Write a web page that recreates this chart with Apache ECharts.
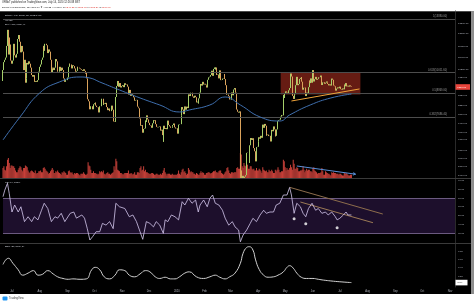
<!DOCTYPE html>
<html><head><meta charset="utf-8">
<script src="https://cdn.jsdelivr.net/npm/echarts@6/dist/echarts.min.js"></script>
<style>html,body{margin:0;padding:0;background:#fff}#c{width:474px;height:304px}</style>
</head><body><div id="c"></div>
<script>
// ---------------- data ----------------
const startDate = '2019-06-21';
const firstOpen = 9550;
const closes = [
10200,10700,10850,11000,11800,13000,11200,12400,11900,10800,
10600,10800,11950,11150,11000,11250,11450,12300,12600,12100,11350,11800,11400,10200,10850,9450,9700,10650,10550,10750,10600,10350,9900,9800,9900,9850,9500,9550,9500,9600,10100,
10400,10550,10850,11000,11800,11450,11950,11950,11850,11300,11550,11400,10850,10050,10300,10350,10200,10350,10900,10750,10100,10100,10400,10150,10150,10350,10200,9700,9500,9600,9600,
9750,10400,10600,10550,10550,10300,10500,10450,10300,10100,10150,10400,10350,10350,10300,10250,10200,10150,10250,10150,9980,10050,9700,8550,8450,8050,8200,8200,8050,8300,
8350,8380,8230,8160,8150,7900,8200,8200,8580,8580,8270,8340,8310,8370,8160,8010,8090,7960,7960,8230,8230,8030,7480,7460,8670,9260,9550,9220,9430,9200,9180,
9260,9310,9200,9420,9330,9350,9230,8800,8820,9050,8730,8820,8780,8650,8480,8510,8520,8180,8130,8100,7620,7290,7320,6990,7150,7170,7530,7460,7760,7570,
7420,7320,7300,7200,7400,7540,7510,7530,7360,7240,7220,7240,7260,7080,7120,6890,6620,7290,7150,7190,7140,7520,7320,7260,7200,7200,7250,7320,7390,7220,7170,
7180,6950,7340,7360,7360,7760,8160,8040,7820,8190,8030,8180,8110,8810,8810,8720,8900,8900,8700,8630,8740,8660,8390,8430,8340,8600,8900,9380,9290,9500,9350,
9390,9340,9290,9180,9620,9760,9800,9900,10160,9850,10270,10360,10240,10360,9900,9930,9700,10180,9600,9610,9690,9670,9960,9660,9310,8790,8800,8710,8540,
8530,8910,8760,8760,9070,9150,8900,8040,7930,7890,7950,4970,5560,5200,5390,5020,5360,5410,6190,6200,6200,5830,6480,6770,6690,6760,6370,6250,5880,6410,6420,
6640,6800,6740,6860,6780,7340,7200,7370,7290,6870,6890,6910,6850,6860,6630,7110,7050,7260,7130,6840,6860,7130,7500,7540,7560,7700,7780,7760,8780,8620,
8830,8970,8900,8880,9030,9150,9990,9810,9550,8730,8570,8820,9310,9790,9310,9380,9670,9730,9780,9510,9060,9170,9180,8720,8900,8840,9200,9570,9430,9700,9450,
10200,9520,9660,9790,9620,9670,9750,9780,9770,9870,9320,9470,9480,9390,9450,9520,9460,9380,9300,9360,9290,9690,9620,9290,9250,9160,9010,9120,9190,9140,
9230,9090,9060,9130,9080,9340,9250,9430,9240,9280,9230,9300,9240,9210
];
// daily volume, thousands BTC
const volumes = [
12,14,10,9,14,22,24,18,12,15,
15,14,14,12,9,7,7,10,12,14,13,10,8,12,12,15,14,13,9,7,6,8,9,8,7,6,9,5,6,6,8,
8,9,7,7,12,13,11,9,8,7,5,6,8,10,12,10,6,6,8,7,9,7,6,5,4,7,6,8,7,6,4,
4,8,9,7,6,7,5,4,6,5,6,6,5,4,3,5,5,5,7,5,4,4,5,19,15,14,10,6,6,8,
6,6,5,5,4,5,8,7,8,7,9,5,4,5,6,7,5,5,4,5,6,7,14,10,23,20,10,9,8,6,6,
5,4,5,6,6,6,6,9,5,5,6,5,4,5,7,4,4,7,7,6,12,14,9,10,14,8,10,7,7,6,
5,5,5,6,6,5,4,4,5,5,4,4,4,5,4,6,9,12,7,5,3,5,5,5,4,4,5,4,4,4,4,
4,5,9,5,4,7,10,11,7,8,6,4,5,12,10,7,8,7,7,5,5,4,6,5,4,4,6,8,6,7,6,
4,4,6,6,7,7,6,5,6,7,8,8,9,7,7,6,8,9,9,6,5,4,5,7,8,12,13,9,6,
5,7,7,6,7,7,7,12,13,11,11,30,28,14,12,18,15,14,17,16,11,11,14,14,11,10,11,9,9,12,9,
9,11,10,8,6,13,10,9,8,9,7,7,10,8,8,10,8,6,6,10,8,10,13,10,7,7,8,8,22,20,
13,9,12,10,10,12,16,13,10,22,17,11,11,13,12,8,8,9,9,10,14,10,7,9,11,9,10,10,8,8,7,
12,13,9,8,7,5,6,6,6,7,12,8,4,4,8,7,6,5,5,4,3,7,6,7,6,6,5,5,5,4,
5,5,4,3,3,6,5,6,5,4,3,3,4,4
];
const ema100 = [
['2019-06-21',6690],['2019-07-10',7686],['2019-08-01',8884],['2019-08-23',9493],['2019-09-15',9783],
['2019-09-26',9724],['2019-10-07',9493],['2019-10-29',9046],['2019-11-21',8620],['2019-12-13',8263],
['2020-01-04',7921],['2020-01-15',8017],['2020-02-07',8263],['2020-02-24',8671],['2020-03-12',8263],
['2020-04-03',7686],['2020-04-25',7502],['2020-05-06',7780],['2020-05-29',8263],['2020-06-21',8620],['2020-07-14',8829]
];
const rsi14 = [
['2019-06-21',71.5],['2019-06-23',79],['2019-06-26',86.8],['2019-06-28',75],['2019-07-01',54],['2019-07-04',62],['2019-07-08',54],['2019-07-11',60],['2019-07-15',43],['2019-07-19',48.6],['2019-07-23',43],['2019-07-26',48.6],['2019-07-30',45],
['2019-08-03',56],['2019-08-06',64],['2019-08-10',58],['2019-08-14',43],['2019-08-18',48.6],['2019-08-21',47],['2019-08-25',52.5],['2019-08-29',43],
['2019-09-04',52.5],['2019-09-08',54],['2019-09-11',47],['2019-09-17',50.6],['2019-09-20',47],['2019-09-23',35.4],['2019-09-26',22],['2019-09-29',25.8],
['2019-10-03',31.5],['2019-10-07',31.5],['2019-10-10',41],['2019-10-14',39],['2019-10-18',43],['2019-10-22',35],['2019-10-25',64],['2019-10-29',60],
['2019-11-04',58],['2019-11-09',48.6],['2019-11-13',50.6],['2019-11-17',43],['2019-11-21',31.5],['2019-11-24',22.8],['2019-11-28',43],
['2019-12-02',41],['2019-12-06',37],['2019-12-09',43],['2019-12-13',39],['2019-12-17',29.6],['2019-12-19',45],['2019-12-22',43],['2019-12-26',50.6],['2019-12-30',48.6],
['2020-01-03',45],['2020-01-07',65.8],['2020-01-10',62],['2020-01-14',69.7],['2020-01-18',64],['2020-01-22',67.7],['2020-01-25',54],['2020-01-27',62],['2020-01-31',67.7],
['2020-02-04',60],['2020-02-07',69.7],['2020-02-10',73.4],['2020-02-13',64],['2020-02-17',62],['2020-02-21',56],['2020-02-24',47],['2020-02-28',39],
['2020-03-03',43],['2020-03-06',37],['2020-03-10',33.4],['2020-03-12',20],['2020-03-15',27.7],['2020-03-19',33.4],['2020-03-23',41],['2020-03-26',46.8],['2020-03-30',43],
['2020-04-03',50.6],['2020-04-07',56],['2020-04-10',52.5],['2020-04-14',54],['2020-04-18',54],['2020-04-21',62],['2020-04-25',64],['2020-04-29',73.4],
['2020-05-03',73.4],['2020-05-06',82],['2020-05-08',73.4],['2020-05-11',52.5],['2020-05-14',64],['2020-05-18',60],['2020-05-21',52.5],['2020-05-24',48.6],['2020-05-27',58],['2020-05-31',64],
['2020-06-04',56],['2020-06-07',58],['2020-06-11',52.5],['2020-06-15',54],['2020-06-18',50.6],['2020-06-22',54],['2020-06-26',48.6],['2020-06-28',45],
['2020-07-01',46.8],['2020-07-05',50.6],['2020-07-08',54],['2020-07-10',50.6],['2020-07-14',50.6]
];
const bbw = [
['2019-06-21',0.48],['2019-06-27',0.63],['2019-07-02',0.51],['2019-07-08',0.35],['2019-07-13',0.22],['2019-07-19',0.27],['2019-07-25',0.33],['2019-07-30',0.22],
['2019-08-04',0.24],['2019-08-10',0.33],['2019-08-16',0.25],['2019-08-21',0.18],['2019-08-27',0.14],['2019-09-02',0.12],['2019-09-07',0.13],['2019-09-15',0.12],
['2019-09-22',0.13],['2019-09-28',0.35],['2019-10-02',0.41],['2019-10-07',0.35],['2019-10-12',0.18],['2019-10-18',0.13],['2019-10-24',0.22],['2019-10-29',0.35],
['2019-11-04',0.33],['2019-11-09',0.22],['2019-11-15',0.18],['2019-11-21',0.25],['2019-11-27',0.33],['2019-12-02',0.30],['2019-12-08',0.18],['2019-12-13',0.14],
['2019-12-19',0.17],['2019-12-25',0.13],['2019-12-30',0.13],['2020-01-04',0.18],['2020-01-10',0.27],['2020-01-15',0.30],['2020-01-23',0.18],['2020-01-31',0.14],
['2020-02-07',0.18],['2020-02-13',0.22],['2020-02-18',0.17],['2020-02-24',0.13],['2020-02-29',0.18],['2020-03-06',0.27],['2020-03-12',0.51],['2020-03-15',0.75],
['2020-03-19',0.89],['2020-03-22',0.91],['2020-03-26',0.83],['2020-03-29',0.59],['2020-04-02',0.36],['2020-04-07',0.22],['2020-04-12',0.17],['2020-04-18',0.18],
['2020-04-23',0.22],['2020-04-29',0.30],['2020-05-03',0.41],['2020-05-06',0.45],['2020-05-10',0.39],['2020-05-14',0.27],['2020-05-19',0.17],['2020-05-25',0.14],
['2020-06-01',0.14],['2020-06-07',0.12],['2020-06-13',0.10],['2020-06-21',0.08],['2020-07-01',0.06],['2020-07-14',0.04]
];
const priceTicks = [14500,13500,12750,11750,11000,10250,9750,8750,8250,7800,7400,7000,6700,6300,6000,5700,5400];
const rsiTicks = [30,40,50,60,70,80,90];
const bbwTicks = [0.2,0.4,0.6,0.8,1.0];
const monthTicks = ['2019-07-01','2019-08-01','2019-09-01','2019-10-01','2019-11-01','2019-12-01','2020-01-01','2020-02-01','2020-03-01','2020-04-01','2020-05-01','2020-06-01','2020-07-01','2020-08-01','2020-09-01','2020-10-01','2020-11-01'];
const monthLabels = ['Jul','Aug','Sep','Oct','Nov','Dec','2020','Feb','Mar','Apr','May','Jun','Jul','Aug','Sep','Oct','Nov'];
const fibLevels = [1, 0.618, 0.5, 0.382];
const fibPrices = [13880.00, 10051.60, 8869.00, 7686.40];
const rangeBox = [['2020-04-26', 10050], ['2020-07-24', 8800]];
const supportLine = [['2020-05-08', 8464], ['2020-07-23', 9101]];
const volumeArrow = [['2020-05-14', 14.4], ['2020-07-19', 4.5]];
const rsiTrend1 = [['2020-05-06', 82.2], ['2020-08-18', 51.7]];
const rsiTrend2 = [['2020-05-18', 65.4], ['2020-08-07', 41.8]];
const rsiDots = [['2020-05-11', 46.3], ['2020-05-24', 40.6], ['2020-06-28', 36.1]];

// ---------------- build ----------------
const DAY = 86400000;
const ts = s => { const p = s.split('-').map(Number); return Date.UTC(p[0], p[1]-1, p[2]); };
const t0 = ts(startDate);
const xMin = t0, xMax = t0 + 504.6 * DAY;
const candles = closes.map((c, i) => {
  const o = i === 0 ? firstOpen : closes[i-1];
  return [t0 + i*DAY, o, c, Math.min(o,c), Math.max(o,c)];
});
const vol = volumes.map((v, i) => [t0 + i*DAY, v]);
const pairs = arr => arr.map(d => [ts(d[0]), d[1]]);
const lastClose = closes[closes.length-1];
const lastBbw = bbw[bbw.length-1][1];
const monthTs = monthTicks.map(ts);
const FONT = 'Liberation Sans';
const AX = '#b2b5be';

const xBase = (grid, show) => ({
  type:'value', gridIndex:grid, min:xMin, max:xMax, scale:true,
  axisLine:{show:show, lineStyle:{color:'#333'}}, axisTick:{show:false}, splitLine:{show:false},
  axisLabel: show ? {customValues: monthTs, color:AX, fontSize:2.6, margin:3, fontFamily:FONT,
    formatter: v => { const i = monthTs.indexOf(v); return i>=0 ? monthLabels[i] : ''; }} : {show:false}
});
const yRight = (grid, extra) => Object.assign({
  gridIndex:grid, position:'right', splitLine:{show:false}, axisTick:{show:false},
  axisLine:{show:true, lineStyle:{color:'#2a2a2a'}}
}, extra);

const chart = echarts.init(document.getElementById('c'), null, {renderer:'canvas'});
chart.setOption({
  animation:false,
  backgroundColor:'#ffffff',
  textStyle:{fontFamily:FONT},
  grid:[
    {left:3, right:19, top:11, height:167},
    {left:3, right:19, top:179, height:64},
    {left:3, right:19, top:243, height:44}
  ],
  xAxis:[xBase(0,false), xBase(1,false), xBase(2,true)],
  yAxis:[
    yRight(0,{type:'log', logBase:10, min:5319, max:14566,
      axisLabel:{customValues:priceTicks, color:AX, fontSize:2.5, margin:3, formatter:v=>Number(v).toFixed(2)}}),
    {type:'value', gridIndex:0, min:0, max:200, show:false},
    yRight(1,{type:'value', min:18.6, max:91.7,
      axisLabel:{customValues:rsiTicks, color:AX, fontSize:2.5, margin:3, formatter:v=>Number(v).toFixed(2)}}),
    yRight(2,{type:'value', min:-0.067, max:1.0,
      axisLabel:{customValues:bbwTicks, color:AX, fontSize:2.5, margin:3, formatter:v=>Number(v).toFixed(2)}})
  ],
  graphic:{elements:[
    {id:'bg', type:'rect', z:-10, shape:{x:0,y:11,width:471,height:283}, style:{fill:'#000'}},
    {id:'lowerBg', type:'rect', z:2, shape:{x:0,y:178.5,width:455,height:109}, style:{fill:'#000'}},
    {id:'edge', type:'rect', z:-9, shape:{x:471,y:11,width:3,height:283}, style:{fill:'#8e8e8e'}},
    {id:'l0', type:'line', z:2.1, shape:{x1:0,y1:11.5,x2:471,y2:11.5}, style:{stroke:'#4a4a4a',lineWidth:1}},
    {id:'l1', type:'line', z:2.1, shape:{x1:0,y1:178.5,x2:471,y2:178.5}, style:{stroke:'#3a3a3a',lineWidth:1}},
    {id:'l2', type:'line', z:2.1, shape:{x1:0,y1:243.5,x2:471,y2:243.5}, style:{stroke:'#3a3a3a',lineWidth:1}},
    {id:'h1', type:'text', z:100, x:2, y:2.6, style:{text:'ORBoT published on TradingView.com, July 14, 2020 12:26:38 BST', fontSize:2.6, fontFamily:FONT, fill:'#222', verticalAlign:'middle'}},
    {id:'h2', type:'text', z:100, x:2, y:7, style:{text:'{a|BITSTAMP:BTCUSD, 1D 9210.00 ▼ −33.22 (−0.36%) O:}{b|9243.22}{a| H:}{b|9265.78}{a| L:}{b|9158.29}{a| C:}{b|9210.00}',
      fontSize:2.5, fontFamily:FONT, verticalAlign:'middle',
      rich:{a:{fill:'#222', fontSize:2.5, fontFamily:FONT}, b:{fill:'#e0403a', fontSize:2.5, fontFamily:FONT}}}},
    {id:'t1', type:'text', z:100, x:5, y:15.8, style:{text:'Bitcoin / U.S. Dollar, 1D, BITSTAMP', fontSize:2.3, fontFamily:FONT, fill:'#d1d4dc', verticalAlign:'middle'}},
    {id:'t2', type:'text', z:100, x:5, y:20.3, style:{text:'Vol (20)', fontSize:2.3, fontFamily:FONT, fill:'#d1d4dc', verticalAlign:'middle'}},
    {id:'t3', type:'text', z:100, x:5, y:24.6, style:{text:'EMA (100, close, 0)', fontSize:2.3, fontFamily:FONT, fill:'#d1d4dc', verticalAlign:'middle'}},
    {id:'t4', type:'text', z:100, x:5, y:182.5, style:{text:'RSI (14, close)', fontSize:2.3, fontFamily:FONT, fill:'#d1d4dc', verticalAlign:'middle'}},
    {id:'t5', type:'text', z:100, x:5, y:246.5, style:{text:'BBW (20, close, 2)', fontSize:2.3, fontFamily:FONT, fill:'#d1d4dc', verticalAlign:'middle'}},
    {id:'logo', type:'rect', z:100, shape:{x:2.5,y:296.5,width:5,height:4,r:1}, style:{fill:'#2196f3'}},
    {id:'logoT', type:'text', z:100, x:9, y:298.7, style:{text:'TradingView', fontSize:2.7, fontFamily:FONT, fill:'#444', verticalAlign:'middle'}}
  ]},
  series:[
    {
      type:'bar', name:'Volume', xAxisIndex:0, yAxisIndex:1, data:vol, barWidth:1,
      itemStyle:{color:'#c8413a'}, z:1,
      markLine:{silent:true, symbol:['none','arrow'], symbolSize:3,
        lineStyle:{color:'#5b8fd6', width:1, type:'solid'}, label:{show:false},
        data:[[{coord:[ts(volumeArrow[0][0]), volumeArrow[0][1]]},{coord:[ts(volumeArrow[1][0]), volumeArrow[1][1]]}]]}
    },
    {
      type:'candlestick', name:'BTCUSD', xAxisIndex:0, yAxisIndex:0, data:candles, clip:true,
      encode:{x:0, y:[1,2,3,4]}, z:1.5,
      itemStyle:{color:'#a5cf6a', color0:'#dba35c', borderColor:'#a5cf6a', borderColor0:'#dba35c', borderWidth:1},
      markArea:{silent:true, z:1, itemStyle:{color:'rgba(165,45,30,0.62)'},
        data:[[{coord:[ts(rangeBox[0][0]), rangeBox[0][1]]},{coord:[ts(rangeBox[1][0]), rangeBox[1][1]]}]]},
      markLine:{silent:true, symbol:'none', z:1.6,
        lineStyle:{color:'#4d4d4d', width:1, type:'solid'},
        label:{position:'insideEndTop', color:'#9a9a9a', fontSize:2.6, distance:[8,1]},
        data: fibPrices.map((p,i)=>({yAxis:p, label:{formatter: fibLevels[i] + '(' + p.toFixed(2) + ')'}}))
          .concat([
            [{coord:[ts(supportLine[0][0]), supportLine[0][1]], lineStyle:{color:'#f0a43a', width:1}, label:{show:false}},
             {coord:[ts(supportLine[1][0]), supportLine[1][1]]}]
          ])}
    },
    {
      type:'line', name:'EMA', xAxisIndex:0, yAxisIndex:0, data:pairs(ema100), smooth:true, showSymbol:false, z:1.7,
      lineStyle:{color:'#3f6fae', width:1}
    },
    {
      type:'line', name:'RSI', xAxisIndex:1, yAxisIndex:2, data:pairs(rsi14), showSymbol:false, z:4,
      lineStyle:{color:'#d6c9ef', width:0.8},
      markArea:{silent:true, z:3, itemStyle:{color:'#1d0f2c'}, data:[[{yAxis:30},{yAxis:70}]]},
      markLine:{silent:true, symbol:'none', z:3.5, label:{show:false},
        lineStyle:{color:'#6b5a80', width:1, type:'solid'},
        data:[{yAxis:70},{yAxis:30},
          [{coord:[ts(rsiTrend1[0][0]), rsiTrend1[0][1]], lineStyle:{color:'#8d6d4c', width:1}},{coord:[ts(rsiTrend1[1][0]), rsiTrend1[1][1]]}],
          [{coord:[ts(rsiTrend2[0][0]), rsiTrend2[0][1]], lineStyle:{color:'#9c7a56', width:1}},{coord:[ts(rsiTrend2[1][0]), rsiTrend2[1][1]]}]
        ]}
    },
    {
      type:'scatter', name:'RSI marks', xAxisIndex:1, yAxisIndex:2, data:pairs(rsiDots), symbolSize:3, z:5,
      itemStyle:{color:'#ffffff'}
    },
    {
      type:'line', name:'BBW', xAxisIndex:2, yAxisIndex:3, data:pairs(bbw), smooth:true, showSymbol:false, z:4,
      lineStyle:{color:'#d0d0d0', width:1}
    }
  ]
});

// last-value badges on the price scales, positioned through the axes' own scales
const pY = chart.convertToPixel({yAxisIndex:0}, lastClose);
const bY = chart.convertToPixel({yAxisIndex:3}, lastBbw);
chart.setOption({graphic:{elements:[
  {id:'pxBox', type:'rect', z:110, shape:{x:455.5, y:pY-2.8, width:14.5, height:5.6}, style:{fill:'#e8453c'}},
  {id:'pxTxt', type:'text', z:111, x:457, y:pY, style:{text:lastClose.toFixed(2), fontSize:2.5, fontFamily:FONT, fill:'#fff', verticalAlign:'middle'}},
  {id:'bbBox', type:'rect', z:110, shape:{x:455.5, y:bY-2.8, width:12, height:5.6}, style:{fill:'#ffffff'}},
  {id:'bbTxt', type:'text', z:111, x:457.5, y:bY, style:{text:lastBbw.toFixed(2), fontSize:2.5, fontFamily:FONT, fill:'#000', verticalAlign:'middle'}}
]}});
</script>
</body></html>
